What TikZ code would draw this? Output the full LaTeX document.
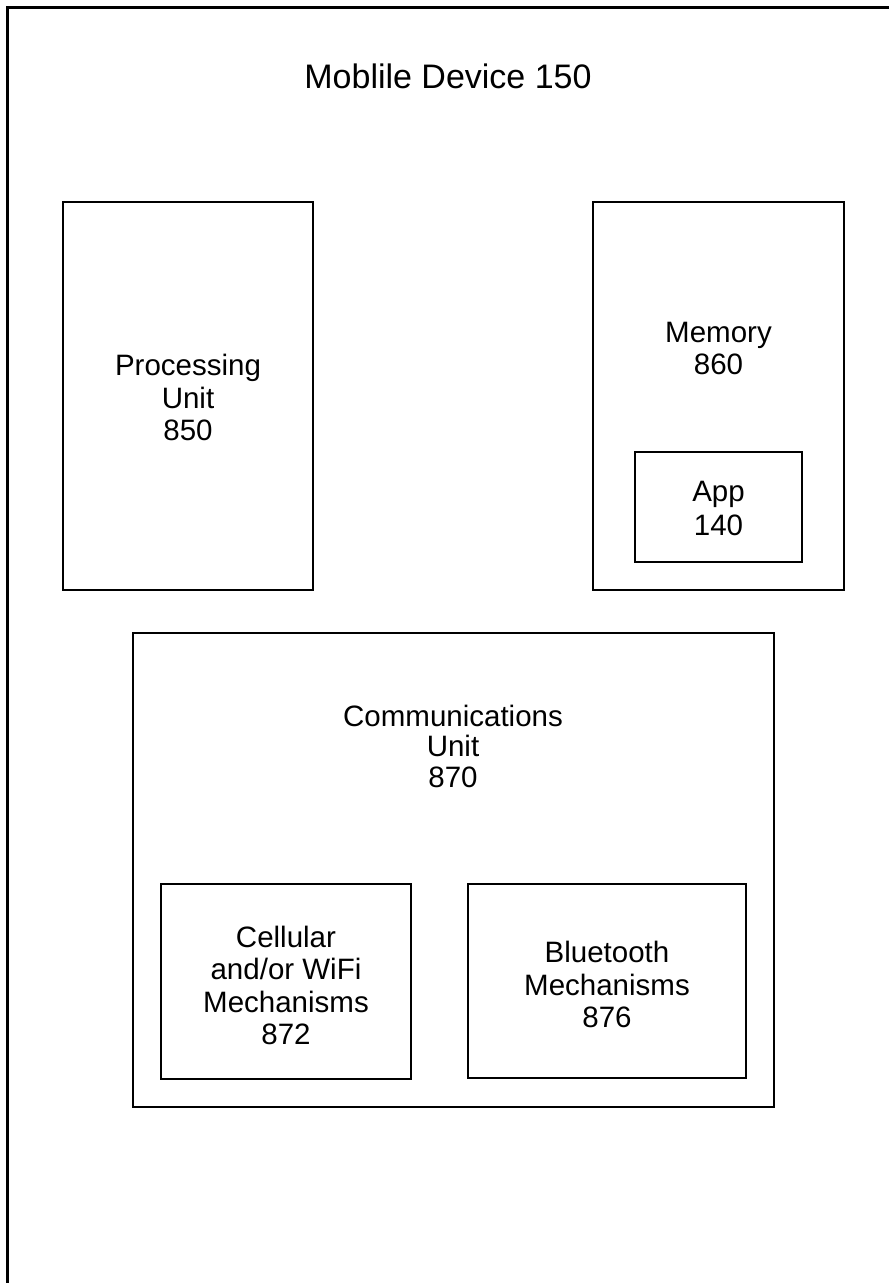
\documentclass[tikz,border=0pt]{standalone}
\usepackage{fontspec}
\setmainfont{Liberation Sans}
\begin{document}
\begin{tikzpicture}[x=1pt,y=-1pt,
  box/.style={draw=black, line width=1.6pt, inner sep=0pt, fill=none},
  lbl/.style={inner sep=0pt, align=center, font=\fontsize{29.5}{32.5}\selectfont},
  ttl/.style={inner sep=0pt, font=\fontsize{34}{39}\selectfont}]
\useasboundingbox (0,0) rectangle (889,1283);
\clip (0,0) rectangle (889,1283);
% outer device frame (extends beyond the page on right and bottom)
\node[draw=black, line width=2.5pt, inner sep=0pt, minimum width=1100pt, minimum height=1400pt] (dev) at (557.5,707.5) {};
\node[ttl] (title) at (448,76) {Moblile Device 150};
% processing unit
\node[box, minimum width=250pt, minimum height=388pt] (pu) at (188,396) {};
\node[lbl] (putxt) at (188,397.5) {Processing\\Unit\\850};
% memory
\node[box, minimum width=251pt, minimum height=388pt] (mem) at (718.5,396) {};
\node[lbl] (memtxt) at (718.5,348.5) {Memory\\860};
\node[box, minimum width=167pt, minimum height=110pt] (app) at (718.5,507) {};
\node[lbl, font=\fontsize{29.5}{34}\selectfont] (apptxt) at (718.5,508) {App\\140};
% communications unit
\node[box, minimum width=641pt, minimum height=474pt] (cu) at (453.5,870) {};
\node[lbl, font=\fontsize{29.5}{30.5}\selectfont] (cutxt) at (453,746) {Communications\\Unit\\870};
\node[box, minimum width=250pt, minimum height=195pt] (cell) at (286,981.5) {};
\node[lbl] (celltxt) at (286,985.5) {Cellular\\and/or WiFi\\Mechanisms\\872};
\node[box, minimum width=278pt, minimum height=194pt] (bt) at (607,981) {};
\node[lbl] (bttxt) at (607,984.5) {Bluetooth\\Mechanisms\\876};
\end{tikzpicture}
\end{document}
